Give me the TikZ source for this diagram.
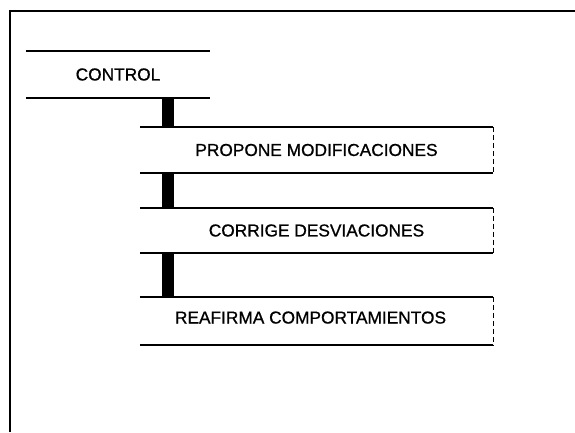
\documentclass[tikz,border=0pt]{standalone}
\usepackage{fontspec}
\setmainfont{Liberation Sans}
\newfontfamily\labelfont[FakeBold=0.8]{Liberation Sans}
\begin{document}
\begin{tikzpicture}[x=1pt,y=-1pt,
  box/.style={rectangle,inner sep=0pt,font=\labelfont\fontsize{17.3}{17.3}\selectfont},
  hline/.style={line width=1.5pt},
  redge/.style={line width=1pt,dash pattern=on 5pt off 3pt},
  bar/.style={line width=12pt,line cap=butt},
  frame/.style={line width=2.5pt}]
\useasboundingbox (0,0) rectangle (575,432);
\fill[white] (0,0) rectangle (575,432);
% outer frame (left and top only)
\coordinate (fbl) at (10,432);
\coordinate (ftl) at (10,11);
\coordinate (ftr) at (575,11);
\draw[frame] (fbl) -- (ftl) -- (ftr);
% boxes
\node[box,minimum width=184pt,minimum height=47pt] (control) at (118,74.5) {CONTROL};
\node[box,minimum width=353pt,minimum height=46pt] (propone) at (316.5,150) {\raisebox{-3pt}{PROPONE MODIFICACIONES}};
\node[box,minimum width=353pt,minimum height=45pt] (corrige) at (316.5,230.5) {CORRIGE DESVIACIONES};
\node[box,minimum width=353pt,minimum height=48pt] (reafirma) at (316.5,321) {\hspace*{-12pt}\raisebox{7pt}{REAFIRMA COMPORTAMIENTOS}};
% horizontal rules
\foreach \n in {control,propone,corrige,reafirma}{
  \draw[hline] (\n.north west) -- (\n.north east);
  \draw[hline] (\n.south west) -- (\n.south east);
}
% broken right edges
\foreach \n in {propone,corrige,reafirma}{
  \draw[redge] (\n.north east) -- (\n.south east);
}
% black connector bars
\coordinate (barx) at (168,0);
\draw[bar] (control.south -| barx) -- (propone.north -| barx);
\draw[bar] (propone.south -| barx) -- (corrige.north -| barx);
\draw[bar] (corrige.south -| barx) -- (reafirma.north -| barx);
\end{tikzpicture}
\end{document}
